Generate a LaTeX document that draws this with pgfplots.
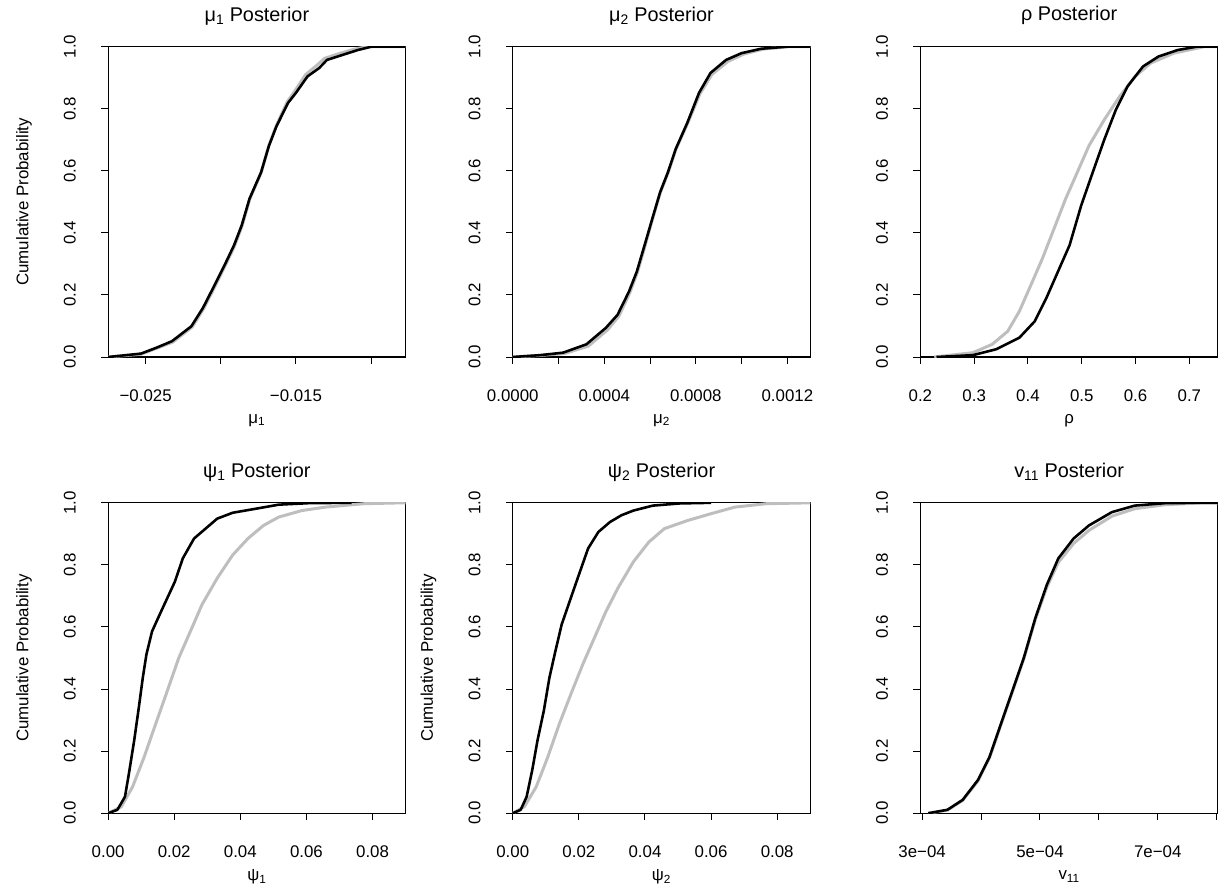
\documentclass[border=0pt]{standalone}
\usepackage{pgfplots}
\pgfplotsset{compat=1.18}
\usepackage{fontspec}
\setmainfont{Liberation Sans}
\definecolor{lg}{HTML}{BEBEBE}
\newcommand{\sub}[1]{\textsubscript{#1}}
\pgfplotsset{
  rpanel/.style={
    scale only axis, width=300pt, height=313pt, anchor=south west,
    ymin=0, ymax=1, ytick={0,0.2,0.4,0.6,0.8,1},
    yticklabels={0.0,0.2,0.4,0.6,0.8,1.0},
    scaled ticks=false,
    tick align=outside, major tick length=7pt,
    xtick pos=bottom, ytick pos=left,
    axis line style={line width=1.2pt}, tick style={line width=1pt, black},
    ticklabel shift=22pt,
    yticklabel style={rotate=90, anchor=south, font=\fontsize{17}{20}\selectfont},
    xticklabel style={anchor=north, font=\fontsize{17}{20}\selectfont},
    title style={at={(axis description cs:0.5,1.08)}, anchor=center, font=\fontsize{20}{24}\selectfont},
    xlabel style={at={(axis description cs:0.5,-0.2045)}, anchor=center, font=\fontsize{17}{20}\selectfont},
    ylabel style={at={(axis description cs:-0.283,0.5)}, anchor=center, rotate=0, font=\fontsize{17}{20}\selectfont},
  },
  gc/.style={color=lg, line width=3pt, line join=round},
  bc/.style={color=black, line width=2.6pt, line join=round},
}
\begin{document}
\begin{tikzpicture}
\path[fill=white] (0pt,0pt) rectangle (1220pt,893pt);
% ---------- mu1
\begin{axis}[rpanel, at={(109pt,533pt)}, xmin=-0.0275, xmax=-0.0077,
  xtick={-0.025,-0.02,-0.015,-0.01}, xticklabels={−0.025,,−0.015,},
  title={μ\sub{1} Posterior}, xlabel={μ\sub{1}}, ylabel={Cumulative Probability}]
\addplot[gc] coordinates {(-0.0275,0)(-0.02531,0.009)(-0.02428,0.028)(-0.02320,0.048)(-0.02190,0.097)(-0.02114,0.156)(-0.02036,0.230)(-0.01960,0.305)(-0.01908,0.358)(-0.01858,0.423)(-0.01807,0.509)(-0.01731,0.594)(-0.01681,0.680)(-0.01631,0.745)(-0.01558,0.822)(-0.01510,0.855)(-0.01435,0.910)(-0.01360,0.940)(-0.01310,0.962)(-0.01210,0.978)(-0.01110,0.992)(-0.01020,1)(-0.0077,1)};
\addplot[bc] coordinates {(-0.0275,0)(-0.02531,0.011)(-0.02428,0.030)(-0.02325,0.051)(-0.02196,0.099)(-0.02119,0.158)(-0.02041,0.232)(-0.01964,0.307)(-0.01912,0.360)(-0.01861,0.424)(-0.01809,0.510)(-0.01732,0.595)(-0.01680,0.680)(-0.01629,0.744)(-0.01552,0.819)(-0.01500,0.851)(-0.01423,0.904)(-0.01345,0.931)(-0.01294,0.957)(-0.01191,0.973)(-0.01088,0.989)(-0.00995,1)(-0.0077,1)};
\end{axis}
% ---------- mu2
\begin{axis}[rpanel, at={(517pt,533pt)}, xmin=0, xmax=0.0013,
  xtick={0,0.0002,0.0004,0.0006,0.0008,0.001,0.0012}, xticklabels={0.0000,,0.0004,,0.0008,,0.0012},
  title={μ\sub{2} Posterior}, xlabel={μ\sub{2}}]
\addplot[gc] coordinates {(0,0)(0.000119,0.005)(0.000225,0.011)(0.000330,0.035)(0.000415,0.088)(0.000464,0.132)(0.000512,0.208)(0.000545,0.273)(0.000578,0.358)(0.000611,0.445)(0.000645,0.530)(0.000679,0.594)(0.000713,0.669)(0.000765,0.754)(0.000818,0.848)(0.000870,0.910)(0.000940,0.952)(0.001010,0.976)(0.001095,0.992)(0.001210,1)(0.0013,1)};
\addplot[bc] coordinates {(0,0)(0.000119,0.006)(0.000220,0.014)(0.000322,0.041)(0.000407,0.094)(0.000458,0.136)(0.000508,0.211)(0.000542,0.275)(0.000576,0.360)(0.000610,0.446)(0.000644,0.531)(0.000678,0.595)(0.000712,0.670)(0.000763,0.755)(0.000814,0.851)(0.000864,0.915)(0.000932,0.957)(0.001000,0.979)(0.001085,0.993)(0.001203,1)(0.0013,1)};
\end{axis}
% ---------- rho
\begin{axis}[rpanel, at={(928pt,533pt)}, xmin=0.2, xmax=0.753,
  xtick={0.2,0.3,0.4,0.5,0.6,0.7}, xticklabels={0.2,0.3,0.4,0.5,0.6,0.7},
  title={ρ Posterior}, xlabel={ρ}]
\addplot[gc] coordinates {(0.2259,0)(0.2977,0.014)(0.3336,0.041)(0.3624,0.083)(0.3839,0.147)(0.4055,0.232)(0.4270,0.318)(0.4486,0.414)(0.4701,0.510)(0.4917,0.595)(0.5132,0.680)(0.5420,0.765)(0.5707,0.840)(0.5994,0.904)(0.6282,0.947)(0.6713,0.979)(0.7287,1)(0.753,1)};
\addplot[bc] coordinates {(0.2300,0)(0.2977,0.006)(0.3408,0.025)(0.3839,0.062)(0.4126,0.115)(0.4342,0.190)(0.4557,0.275)(0.4773,0.360)(0.4989,0.488)(0.5204,0.595)(0.5420,0.701)(0.5635,0.797)(0.5851,0.872)(0.6138,0.936)(0.6425,0.968)(0.6784,0.989)(0.7144,1)(0.753,1)};
\end{axis}
% ---------- psi1
\begin{axis}[rpanel, at={(109pt,73pt)}, xmin=0, xmax=0.09,
  xtick={0,0.02,0.04,0.06,0.08}, xticklabels={0.00,0.02,0.04,0.06,0.08},
  title={ψ\sub{1} Posterior}, xlabel={ψ\sub{1}}, ylabel={Cumulative Probability}]
\addplot[gc] coordinates {(0,0)(0.0040,0.021)(0.0074,0.085)(0.0109,0.181)(0.0144,0.288)(0.0179,0.394)(0.0214,0.501)(0.0249,0.586)(0.0284,0.672)(0.0330,0.757)(0.0377,0.832)(0.0423,0.885)(0.0470,0.927)(0.0516,0.954)(0.0586,0.975)(0.0656,0.986)(0.0772,0.997)(0.0893,1)(0.09,1)};
\addplot[bc] coordinates {(0,0)(0.0028,0.011)(0.0051,0.053)(0.0063,0.128)(0.0079,0.235)(0.0093,0.341)(0.0105,0.437)(0.0116,0.512)(0.0133,0.586)(0.0156,0.640)(0.0179,0.693)(0.0202,0.746)(0.0226,0.821)(0.0260,0.885)(0.0295,0.917)(0.0330,0.949)(0.0377,0.968)(0.0447,0.981)(0.0516,0.994)(0.0609,0.999)(0.0737,1)};
\end{axis}
% ---------- psi2
\begin{axis}[rpanel, at={(517pt,73pt)}, xmin=0, xmax=0.09,
  xtick={0,0.02,0.04,0.06,0.08}, xticklabels={0.00,0.02,0.04,0.06,0.08},
  title={ψ\sub{2} Posterior}, xlabel={ψ\sub{2}}, ylabel={Cumulative Probability}]
\addplot[gc] coordinates {(0,0)(0.0035,0.021)(0.0071,0.085)(0.0106,0.181)(0.0141,0.288)(0.0176,0.384)(0.0212,0.480)(0.0247,0.565)(0.0282,0.650)(0.0318,0.725)(0.0365,0.810)(0.0412,0.874)(0.0459,0.917)(0.0529,0.943)(0.0600,0.965)(0.0671,0.986)(0.0765,0.997)(0.0901,1)};
\addplot[bc] coordinates {(0,0)(0.0024,0.011)(0.0042,0.053)(0.0059,0.139)(0.0075,0.235)(0.0094,0.330)(0.0111,0.437)(0.0129,0.522)(0.0148,0.608)(0.0172,0.682)(0.0200,0.768)(0.0228,0.853)(0.0259,0.906)(0.0294,0.938)(0.0329,0.960)(0.0365,0.975)(0.0424,0.991)(0.0506,0.998)(0.0600,1)};
\end{axis}
% ---------- v11
\begin{axis}[rpanel, at={(928pt,73pt)}, xmin=0.0002970, xmax=0.000802,
  xtick={0.0003,0.0004,0.0005,0.0006,0.0007,0.0008}, xticklabels={3e−04,,5e−04,,7e−04,},
  title={v\sub{11} Posterior}, xlabel={v\sub{11}}]
\addplot[gc] coordinates {(0.0003104,0)(0.0003429,0.010)(0.0003688,0.041)(0.0003948,0.104)(0.0004143,0.178)(0.0004338,0.285)(0.0004532,0.391)(0.0004727,0.498)(0.0004922,0.624)(0.0005117,0.728)(0.0005312,0.808)(0.0005571,0.869)(0.0005831,0.911)(0.0006221,0.957)(0.0006610,0.981)(0.0007130,0.994)(0.0007779,1)(0.000802,1)};
\addplot[bc] coordinates {(0.0003104,0)(0.0003429,0.011)(0.0003688,0.043)(0.0003948,0.107)(0.0004143,0.181)(0.0004338,0.288)(0.0004532,0.394)(0.0004727,0.501)(0.0004922,0.629)(0.0005117,0.736)(0.0005312,0.821)(0.0005571,0.885)(0.0005831,0.927)(0.0006221,0.970)(0.0006610,0.991)(0.0007130,0.999)(0.0007779,1)(0.000802,1)};
\end{axis}
\end{tikzpicture}
\end{document}
